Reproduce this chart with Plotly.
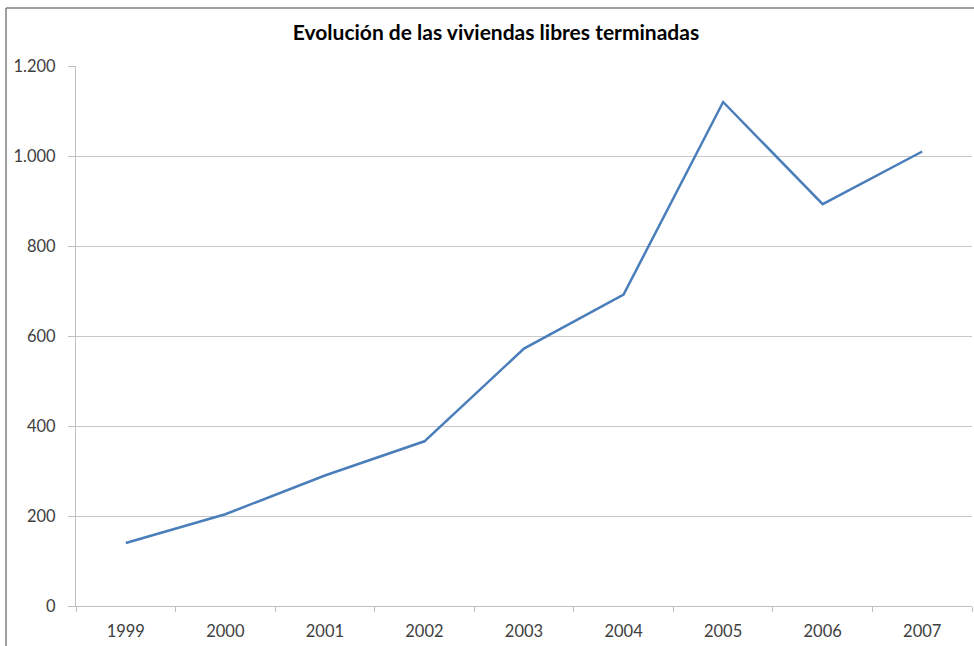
import plotly.graph_objects as go

years = ["1999", "2000", "2001", "2002", "2003", "2004", "2005", "2006", "2007"]
viviendas = [140, 204, 290, 366, 572, 692, 1120, 893, 1010]
y_ticks = [0, 200, 400, 600, 800, 1000, 1200]

W, H = 974, 646
L, R, T, B = 76, 2, 66, 40
pw = W - L - R
ph = H - T - B

fig = go.Figure()
fig.add_trace(go.Scatter(
    x=years, y=viviendas, mode="lines",
    line=dict(color="#4a7ebb", width=2.5),
    hoverinfo="x+y",
))

fig.update_layout(
    width=W, height=H,
    margin=dict(l=L, r=R, t=T, b=B),
    paper_bgcolor="white", plot_bgcolor="white",
    separators=",.",
    showlegend=False,
    font=dict(family="Lato, Open Sans, sans-serif", size=16.5, color="#404040"),
    title=dict(text="<b>Evolución de las viviendas libres terminadas</b>",
               x=496 / W, xanchor="center", y=1 - 33 / H, yanchor="middle",
               font=dict(size=21, color="black")),
)
fig.update_xaxes(
    type="category", range=[-0.5, 8.5],
    tickson="boundaries", ticks="outside", ticklen=5, tickcolor="#bfbfbf",
    ticklabelstandoff=10,
    showline=True, linecolor="#bfbfbf", linewidth=1,
    showgrid=False, zeroline=False,
)
fig.update_yaxes(
    range=[0, 1200], tickvals=y_ticks, tickformat=",d",
    ticks="outside", ticklen=7, tickcolor="#bfbfbf",
    ticklabelstandoff=9,
    showline=True, linecolor="#bfbfbf", linewidth=1,
    showgrid=True, gridcolor="#c8c8c8", gridwidth=1,
    zeroline=False,
)
x_left = (6 - L) / pw
y_top = (H - B - 8) / ph
fig.add_shape(type="line", xref="paper", yref="paper",
              x0=x_left, x1=1.02, y0=y_top, y1=y_top,
              line=dict(color="#7f7f7f", width=1.5))
fig.add_shape(type="line", xref="paper", yref="paper",
              x0=x_left, x1=x_left, y0=-0.1, y1=y_top,
              line=dict(color="#7f7f7f", width=1.5))

fig.write_html("out.html", config={"displayModeBar": False},
               post_script="document.body.style.margin='0';document.body.style.overflow='hidden';")
